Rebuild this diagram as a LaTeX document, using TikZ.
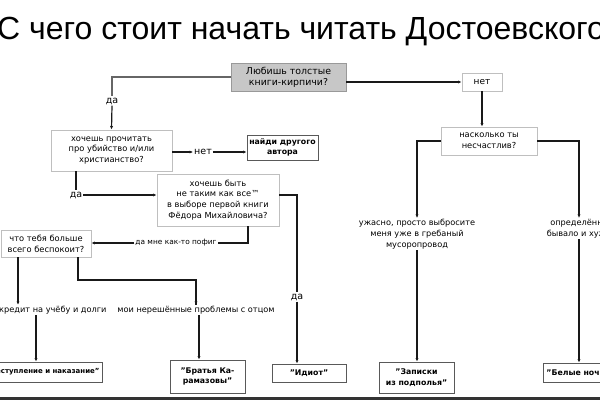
\documentclass[tikz,border=0pt]{standalone}
\usepackage{fontspec}
\setmainfont{DejaVu Sans}
\newfontfamily\titlefont{Liberation Sans}
\usetikzlibrary{arrows.meta}
\begin{document}
\begin{tikzpicture}[x=1pt,y=-1pt,
  qbox/.style={draw=black!25, fill=white, line width=0.8pt, align=center, font=\fontsize{8.3}{10.8}\selectfont, text=black, inner sep=0pt},
  rbox/.style={draw=black!65, fill=white, line width=0.9pt, align=center, font=\bfseries\fontsize{7.8}{10.5}\selectfont, text=black, inner sep=0pt},
  lbl/.style={align=center, font=\fontsize{8.2}{10.8}\selectfont, text=black, inner sep=1pt},
  big/.style={font=\fontsize{9.5}{11}\selectfont, text=black, inner sep=1pt},
  conn/.style={draw=black!90, line width=1.2pt},
  arr/.style={conn, -{Latex[length=3.5pt,width=3.2pt]}},
]
\useasboundingbox (0,0) rectangle (600,400);
\clip (0,0) rectangle (600,400);
\fill[white] (0,0) rectangle (600,400);
% title
\node[anchor=base west, inner sep=0pt, font=\titlefont\fontsize{32}{36}\selectfont] (title) at (-3,39) {С чего стоит начать читать Достоевского};
% boxes
\node[qbox, fill=black!22, draw=black!40, minimum width=115pt, minimum height=28pt, font=\fontsize{9.4}{11}\selectfont] (b1) at (288.5,77) {Любишь толстые\\книги-кирпичи?};
\node[qbox, minimum width=40pt, minimum height=18pt, font=\fontsize{9}{11}\selectfont] (net1) at (482,82) {нет};
\node[qbox, minimum width=96pt, minimum height=28pt] (nask) at (489,141) {насколько ты\\несчастлив?};
\node[qbox, minimum width=121pt, minimum height=41pt] (b2) at (111.5,150.5) {хочешь прочитать\\про убийство и/или\\христианство?};
\node[rbox, minimum width=71pt, minimum height=25pt] (avtor) at (282.5,147.5) {найди другого\\автора};
\node[qbox, minimum width=122pt, minimum height=52pt] (b3) at (218,200) {хочешь быть\\не таким как все™\\в выборе первой книги\\Фёдора Михайловича?};
\node[qbox, minimum width=90pt, minimum height=27pt] (b4) at (46,243.5) {что тебя больше\\всего беспокоит?};
\node[rbox, anchor=east, minimum height=20pt, inner xsep=3pt, font=\bfseries\fontsize{7}{9}\selectfont] (crime) at (103,372) {"Преступление и наказание"};
\node[rbox, minimum width=75pt, minimum height=33pt] (karam) at (207.5,376.5) {"Братья Ка-\\рамазовы"};
\node[rbox, minimum width=74pt, minimum height=18pt] (idiot) at (309,373) {"Идиот"};
\node[rbox, minimum width=75pt, minimum height=31pt] (zap) at (416.5,377.5) {"Записки\\из подполья"};
\node[rbox, anchor=west, minimum height=19pt, inner xsep=3pt] (noch) at (543,372.5) {"Белые ночи"};
% labels
\node[big] (da1) at (112,101) {да};
\node[big] (net2) at (203,152) {нет};
\node[big] (da2) at (76,195) {да};
\node[lbl, font=\fontsize{7.4}{9}\selectfont] (pofig) at (176,243) {да мне как-то пофиг};
\node[big] (da3) at (297,297) {да};
\node[lbl, anchor=west] (kredit) at (-2,310) {кредит на учёбу и долги};
\node[lbl] (otec) at (196,310) {мои нерешённые проблемы с отцом};
\node[lbl] (uzhas) at (417,234) {ужасно, просто выбросите\\меня уже в гребаный\\мусоропровод};
\node[lbl] (opred) at (579,228.5) {определённо\\бывало и хуже};
% connectors
\draw[conn, draw=black!60] (b1.west) -- (b1.west -| da1.north) -- (da1.north);
\draw[arr] (da1.south) -- (b2.north);
\draw[arr] (b1.east |- net1.west) -- (net1.west);
\draw[arr] (net1.south) -- (nask.north -| net1.south);
\draw[arr] (nask.west) -| (uzhas.north);
\draw[arr] (nask.east) -| (opred.north);
\draw[arr] (uzhas.south) -- (zap.north -| uzhas.south);
\draw[arr] (opred.south) -- (noch.north -| opred.south);
\draw[arr] (b2.east |- net2.west) -- (net2.west);
\draw[arr] (net2.east) -- (net2.east -| avtor.west);
\draw[conn] (b2.south -| da2.north) -- (da2.north);
\draw[arr] (da2.east) -- (da2.east -| b3.west);
\draw[conn] (b3.east |- da2.east) -| (da3.north);
\draw[arr] (da3.south) -- (da3.south |- idiot.north);
\draw[conn] (b3.south -| 248,0) |- (pofig.east);
\draw[arr] (pofig.west) -- (pofig.west -| b4.east);
\draw[arr] (b4.south -| 18,0) -- (kredit.north -| 18,0);
\draw[conn] (b4.south -| 78,0) -- (78,280) -| (otec.north);
\draw[arr] (196,280) -- (otec.north);
\draw[arr] (kredit.south -| 36,0) -- (crime.north -| 36,0);
\draw[arr] (otec.south -| 199,0) -- (karam.north -| 199,0);
% bottom bar
\fill[black!80] (0,396.5) rectangle (600,400);
\end{tikzpicture}
\end{document}
